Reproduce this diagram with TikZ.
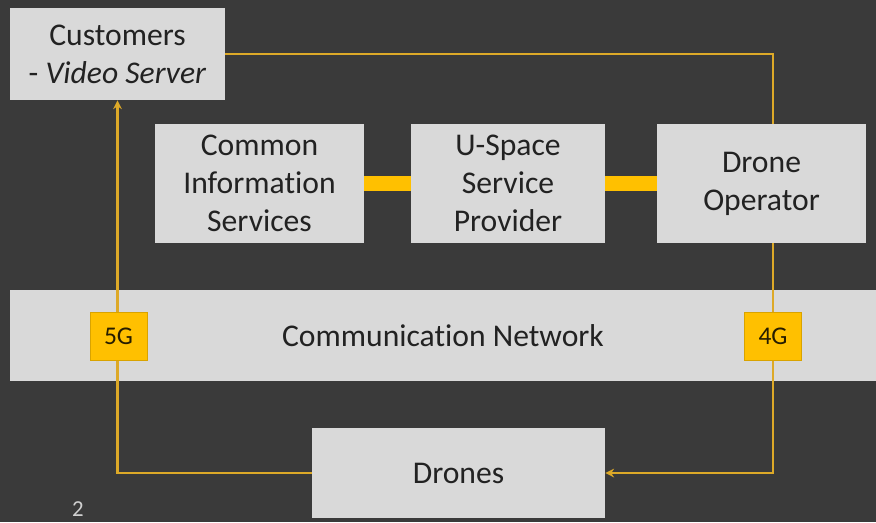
\documentclass[tikz,border=0pt]{standalone}
\usepackage{fontspec}
\setmainfont{Carlito}[Ligatures=NoCommon]
\usetikzlibrary{arrows.meta}
\definecolor{slide}{HTML}{3A3A3A}
\definecolor{boxgray}{HTML}{D9D9D9}
\definecolor{boxtext}{HTML}{222222}
\definecolor{gold}{HTML}{FFC000}
\definecolor{wire}{HTML}{DDA928}
\definecolor{pagegray}{HTML}{CFCFCF}

\begin{document}
\begin{tikzpicture}[x=0.02cm,y=-0.02cm,
    block/.style={fill=boxgray,text=boxtext,align=center,inner sep=0pt,
      font=\fontsize{18}{21.6}\selectfont},
    badge/.style={fill=gold,draw=gold!85!black,line width=0.4pt,text=gold!15!black,
      minimum width=1.14cm,minimum height=0.96cm,inner sep=0pt,
      font=\fontsize{14.5}{16}\selectfont},
    link/.style={draw=wire,line width=1.3pt},
    bus/.style={draw=gold,line width=8.5pt},
    tip/.style={-{Stealth[length=5pt,width=5pt]}}]
    \useasboundingbox (0,0) rectangle (876,522);
    \fill[slide] (0,0) rectangle (876,522);
    \node[block,minimum width=4.3cm,minimum height=1.84cm] (cust) at (117.5,54) {Customers\\- \textit{Video Server}};
    \node[block,minimum width=4.18cm,minimum height=2.38cm] (cis) at (259.5,183.5) {Common\\Information\\Services};
    \node[block,minimum width=3.88cm,minimum height=2.38cm] (ussp) at (508,183.5) {U-Space\\Service\\Provider};
    \node[block,minimum width=4.18cm,minimum height=2.38cm] (op) at (761.5,183.5) {Drone\\Operator};
    \node[block,minimum width=17.32cm,minimum height=1.82cm] (net) at (443,335.5) {Communication Network};
    \node[block,minimum width=5.86cm,minimum height=1.8cm] (drones) at (458.5,473) {Drones};
    \draw[bus] (cis.east) -- (ussp.west);
    \draw[bus] (ussp.east) -- (op.west);
    \coordinate (c5) at (118.5,336);
    \coordinate (c4) at (773,336);
    \draw[link] (cust.east) -| (op.north -| c4);
    \draw[link,tip] (op.south -| c4) |- (drones.east);
    \draw[link,tip] (drones.west) -| (cust.south);
    \node[badge] (g5) at (c5) {5G};
    \node[badge] (g4) at (c4) {4G};
    \node[text=pagegray,font=\fontsize{13}{15}\selectfont] (page) at (78,509) {2};
\end{tikzpicture}
\end{document}
